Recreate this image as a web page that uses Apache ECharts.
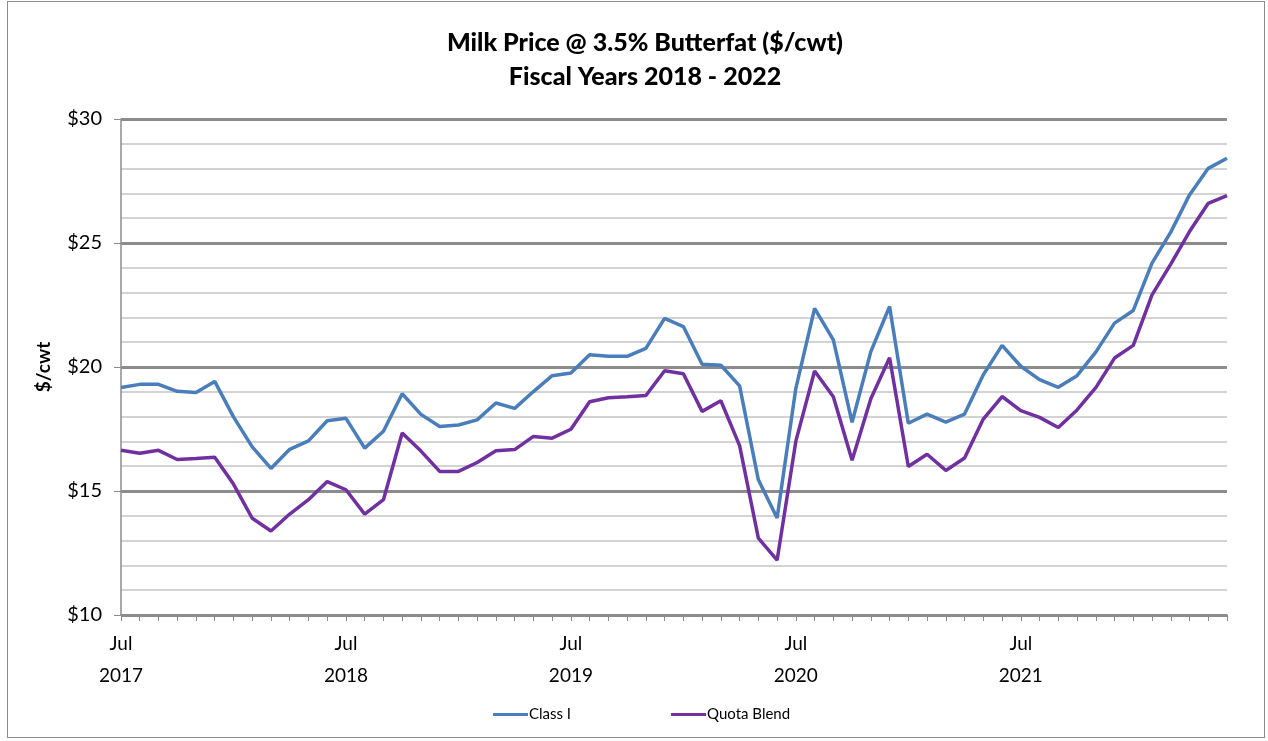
<!DOCTYPE html>
<html lang="en">
<head>
    <meta charset="UTF-8">
    <title>Milk Price</title>
    <script src="https://cdn.jsdelivr.net/npm/echarts@6/dist/echarts.min.js"></script>
    <style>
        body { margin: 0; background: #fff; }
        #frame { position: absolute; left: 7px; top: 1px; width: 1258px; height: 737px; border: 1px solid #8c8c8c; box-sizing: border-box; }
        #chart_line { position: absolute; left: 0; top: 0; width: 1268px; height: 741px; }
    </style>
</head>
<body>
<div id="frame"></div>
<div id="chart_line"></div>
<script>
    var months = [
        '2017-07','2017-08','2017-09','2017-10','2017-11','2017-12','2018-01','2018-02','2018-03','2018-04','2018-05','2018-06',
        '2018-07','2018-08','2018-09','2018-10','2018-11','2018-12','2019-01','2019-02','2019-03','2019-04','2019-05','2019-06',
        '2019-07','2019-08','2019-09','2019-10','2019-11','2019-12','2020-01','2020-02','2020-03','2020-04','2020-05','2020-06',
        '2020-07','2020-08','2020-09','2020-10','2020-11','2020-12','2021-01','2021-02','2021-03','2021-04','2021-05','2021-06',
        '2021-07','2021-08','2021-09','2021-10','2021-11','2021-12','2022-01','2022-02','2022-03','2022-04','2022-05','2022-06'
    ];
    var classI = [
        19.17, 19.30, 19.30, 19.02, 18.97, 19.42, 17.99, 16.78, 15.91, 16.68, 17.02, 17.83,
        17.93, 16.73, 17.41, 18.92, 18.09, 17.60, 17.66, 17.87, 18.55, 18.33, 19.01, 19.65,
        19.76, 20.49, 20.43, 20.43, 20.75, 21.96, 21.63, 20.11, 20.07, 19.24, 15.45, 13.91,
        19.14, 22.36, 21.09, 17.77, 20.62, 22.44, 17.73, 18.10, 17.78, 18.10, 19.69, 20.87,
        20.03, 19.49, 19.18, 19.65, 20.60, 21.77, 22.28, 24.19, 25.44, 26.94, 28.01, 28.42
    ];
    var quotaBlend = [
        16.64, 16.52, 16.64, 16.27, 16.31, 16.36, 15.28, 13.90, 13.39, 14.07, 14.65, 15.38,
        15.05, 14.07, 14.65, 17.34, 16.61, 15.79, 15.79, 16.15, 16.62, 16.67, 17.20, 17.13,
        17.49, 18.60, 18.76, 18.80, 18.85, 19.85, 19.73, 18.21, 18.64, 16.83, 13.10, 12.21,
        17.01, 19.84, 18.80, 16.24, 18.72, 20.37, 15.99, 16.48, 15.83, 16.33, 17.90, 18.81,
        18.24, 17.97, 17.56, 18.27, 19.17, 20.36, 20.87, 22.91, 24.15, 25.46, 26.60, 26.91
    ];
    var monthNames = ['Jan','Feb','Mar','Apr','May','Jun','Jul','Aug','Sep','Oct','Nov','Dec'];
    var font = 'Lato, "Noto Sans", sans-serif';

    var option = {
        animation: false,
        title: {
            text: 'Milk Price @ 3.5% Butterfat ($/cwt)\nFiscal Years 2018 - 2022',
            left: 640,
            top: 21,
            textAlign: 'center',
            textStyle: { fontFamily: font, fontSize: 25, fontWeight: 900, color: '#000', lineHeight: 34 }
        },
        legend: {
            bottom: 14,
            left: 488,
            itemGap: 100,
            icon: 'rect',
            itemWidth: 35,
            itemHeight: 3,
            textStyle: { fontFamily: font, fontSize: 15, color: '#000', padding: [0, 0, 0, -4] },
            data: ['Class I', 'Quota Blend']
        },
        grid: { left: 121, right: 41, top: 119, bottom: 126 },
        xAxis: {
            type: 'category',
            boundaryGap: false,
            data: months,
            axisLine: { lineStyle: { color: '#8c8c8c', width: 1.5 } },
            axisTick: { show: true, interval: 0, length: 6, lineStyle: { color: '#8c8c8c' } },
            axisLabel: {
                interval: 11,
                margin: 13,
                color: '#000',
                fontFamily: font,
                fontSize: 19,
                lineHeight: 32,
                formatter: function (v) {
                    var p = v.split('-');
                    return monthNames[parseInt(p[1], 10) - 1] + '\n' + p[0];
                }
            },
            splitLine: { show: false }
        },
        yAxis: [
            {
                type: 'value',
                min: 10,
                max: 30,
                interval: 5,
                name: '$/cwt',
                nameLocation: 'middle',
                nameGap: 68,
                nameTextStyle: { fontFamily: font, fontSize: 19, fontWeight: 'bold', color: '#000' },
                axisLine: { show: true, lineStyle: { color: '#8c8c8c', width: 1.5 } },
                axisTick: { show: true, length: 7, lineStyle: { color: '#8c8c8c' } },
                axisLabel: {
                    color: '#000', fontFamily: font, fontSize: 20, margin: 19,
                    formatter: function (v) { return '$' + v; }
                },
                splitLine: { show: true, lineStyle: { color: '#8c8c8c', width: 3 } }
            },
            {
                type: 'value',
                min: 10,
                max: 30,
                interval: 1,
                position: 'left',
                axisLine: { show: false },
                axisTick: { show: false },
                axisLabel: { show: false },
                splitLine: { show: true, lineStyle: { color: ['transparent', '#c4c4c4', '#c4c4c4', '#c4c4c4', '#c4c4c4'], width: 1.5 } }
            }
        ],
        series: [
            {
                name: 'Class I',
                type: 'line',
                data: classI,
                symbol: 'none',
                z: 3,
                lineStyle: { color: '#4a7ebb', width: 3.5 },
                itemStyle: { color: '#4a7ebb' }
            },
            {
                name: 'Quota Blend',
                type: 'line',
                data: quotaBlend,
                symbol: 'none',
                z: 3,
                lineStyle: { color: '#7030a0', width: 3.5 },
                itemStyle: { color: '#7030a0' }
            }
        ]
    };

    var chart_line = echarts.init(document.getElementById('chart_line'));
    chart_line.setOption(option);
</script>
</body>
</html>
